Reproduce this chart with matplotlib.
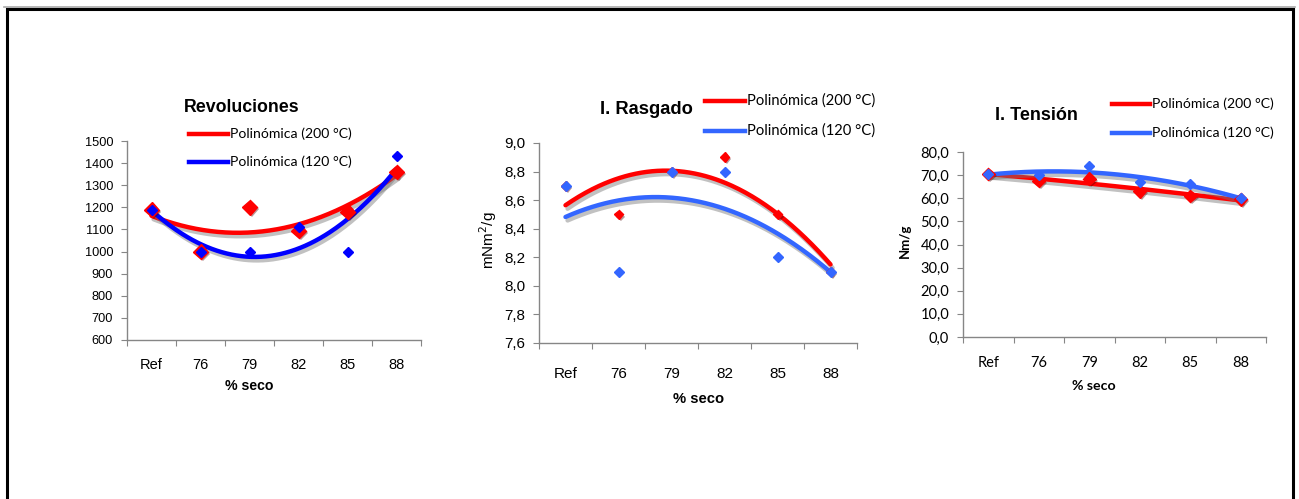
import numpy as np
import matplotlib
matplotlib.use("Agg")
import matplotlib.pyplot as plt
import matplotlib.patheffects as pe
from matplotlib.lines import Line2D

categories = ["Ref", "76", "79", "82", "85", "88"]

rev_200 = [1190, 1000, 1200, 1095, 1180, 1360]
rev_120 = [1190, 1000, 1000, 1110, 1000, 1430]

ras_200 = [8.70, 8.50, 8.80, 8.90, 8.50, 8.10]
ras_120 = [8.70, 8.10, 8.80, 8.80, 8.20, 8.10]

ten_200 = [70.5, 67.5, 68.5, 63.0, 61.0, 59.5]
ten_120 = [70.5, 70.0, 74.0, 67.0, 66.0, 60.0]

leg_200 = "Polinómica (200 °C)"
leg_120 = "Polinómica (120 °C)"

W, H = 1299, 499
fig = plt.figure(figsize=(W / 100, H / 100), dpi=100)

def fx(px):
    return px / W

def fy(py):
    return 1 - py / H

def make_ax(left, right, top, bottom):
    return fig.add_axes([fx(left), fy(bottom), fx(right - left), (bottom - top) / H])

shadow = [pe.SimpleLineShadow(offset=(1.5, -2.5), shadow_color="#777777", alpha=0.45), pe.Normal()]

def panel(ax, y200, y120, ylim, yticks, yfmt, c200, c120, tickfont, xs, ys, ms200, ms120):
    x = np.arange(len(categories)) + 0.5
    xx = np.linspace(x[0], x[-1], 200)
    p2 = np.polyfit(x, y200, 2)
    p1 = np.polyfit(x, y120, 2)
    ax.plot(xx, np.polyval(p2, xx), color=c200, lw=3.2, path_effects=shadow, zorder=3, solid_capstyle="round")
    ax.plot(xx, np.polyval(p1, xx), color=c120, lw=3.2, path_effects=shadow, zorder=3, solid_capstyle="round")
    ax.plot(x, y200, ls="none", marker="D", ms=ms200, color=c200, zorder=4,
            path_effects=[pe.SimplePatchShadow(offset=(1.5, -1.5), alpha=0.4), pe.Normal()])
    ax.plot(x, y120, ls="none", marker="D", ms=ms120, color=c120, zorder=5)
    ax.set_xlim(0, len(categories))
    ax.set_ylim(*ylim)
    ax.set_yticks(yticks)
    ax.set_yticklabels([yfmt(v) for v in yticks], fontsize=ys, **tickfont)
    ax.set_xticks(np.arange(len(categories) + 1))
    ax.set_xticklabels([])
    ax.set_xticks(x, minor=True)
    ax.set_xticklabels(categories, minor=True, fontsize=xs, **tickfont)
    ax.tick_params(axis="x", which="minor", length=0)
    ax.tick_params(axis="x", which="major", length=4, color="#868686", direction="out")
    ax.tick_params(axis="y", length=4, color="#868686", direction="out", pad=6)
    for s in ["top", "right"]:
        ax.spines[s].set_visible(False)
    for s in ["left", "bottom"]:
        ax.spines[s].set_color("#868686")
        ax.spines[s].set_linewidth(1.0)
    ax.patch.set_alpha(0)

arial = {"family": "Liberation Sans"}
cal = {"family": "Lato"}

# Panel 1
ax1 = make_ax(127, 421, 141, 340)
panel(ax1, rev_200, rev_120, (600, 1500), list(range(600, 1501, 100)), lambda v: f"{v:d}",
      "#FF0000", "#0000FF", arial, 10.5, 9.2, 7.5, 5)
ax1.tick_params(axis="x", which="minor", pad=13)

# Panel 2
ax2 = make_ax(539, 857, 143, 343)
yt2 = [7.6, 7.8, 8.0, 8.2, 8.4, 8.6, 8.8, 9.0]
panel(ax2, ras_200, ras_120, (7.6, 9.0), yt2, lambda v: f"{v:.1f}".replace(".", ","),
      "#FF0000", "#3366FF", arial, 11, 11, 5, 5)
ax2.tick_params(axis="x", which="minor", pad=17)

# Panel 3
ax3 = make_ax(963, 1266, 152, 337)
yt3 = list(range(0, 81, 10))
panel(ax3, ten_200, ten_120, (0, 80), yt3, lambda v: f"{v:.1f}".replace(".", ","),
      "#FF0000", "#3366FF", cal, 10.5, 10.5, 6.5, 5)
ax3.tick_params(axis="x", which="minor", pad=14)

# Titles
fig.text(fx(242), fy(107), "Revoluciones", ha="center", va="center", fontsize=12.8, fontweight="bold", family="Liberation Sans")
fig.text(fx(646), fy(110), "I. Rasgado", ha="center", va="center", fontsize=13.2, fontweight="bold", family="Liberation Sans")
fig.text(fx(1036), fy(115), "I. Tensión", ha="center", va="center", fontsize=13, fontweight="bold", family="Liberation Sans")

# Axis labels
fig.text(fx(249), fy(386), "% seco", ha="center", va="center", fontsize=10.2, fontweight="bold", family="Liberation Sans")
fig.text(fx(699), fy(399), "% seco", ha="center", va="center", fontsize=10.6, fontweight="bold", family="Liberation Sans")
fig.text(fx(1094), fy(386), "% seco", ha="center", va="center", fontsize=10.2, fontweight="bold", family="Lato")
fig.text(fx(488), fy(240), "mNm$^2$/g", ha="center", va="center", rotation=90, fontsize=11, family="Liberation Sans")
fig.text(fx(905), fy(241), "Nm/g", ha="center", va="center", rotation=90, fontsize=9.5, fontweight="bold", family="Lato")

# Legends
def legend(x0, x1, ys, c200, c120, fs):
    for yy, c, lab in zip(ys, (c200, c120), (leg_200, leg_120)):
        fig.add_artist(Line2D([fx(x0), fx(x1)], [fy(yy), fy(yy)], color=c, lw=3.2))
        fig.text(fx(x1 + 2), fy(yy), lab, ha="left", va="center", fontsize=fs, family="Lato")

legend(189, 228, (134, 162), "#FF0000", "#0000FF", 10.1)
legend(705, 745, (101, 131), "#FF0000", "#3366FF", 10.6)
legend(1112, 1150, (104, 133), "#FF0000", "#3366FF", 10.1)

# Outer frame
fig.add_artist(Line2D([fx(4), fx(1295)], [fy(7), fy(7)], color="#aaaaaa", lw=1.2))
fig.add_artist(Line2D([fx(6.5), fx(6.5), fx(1293), fx(1293)], [fy(510), fy(9), fy(9), fy(510)],
                      color="black", lw=2.2, solid_joinstyle="miter"))

fig.savefig("out.png", dpi=100)
